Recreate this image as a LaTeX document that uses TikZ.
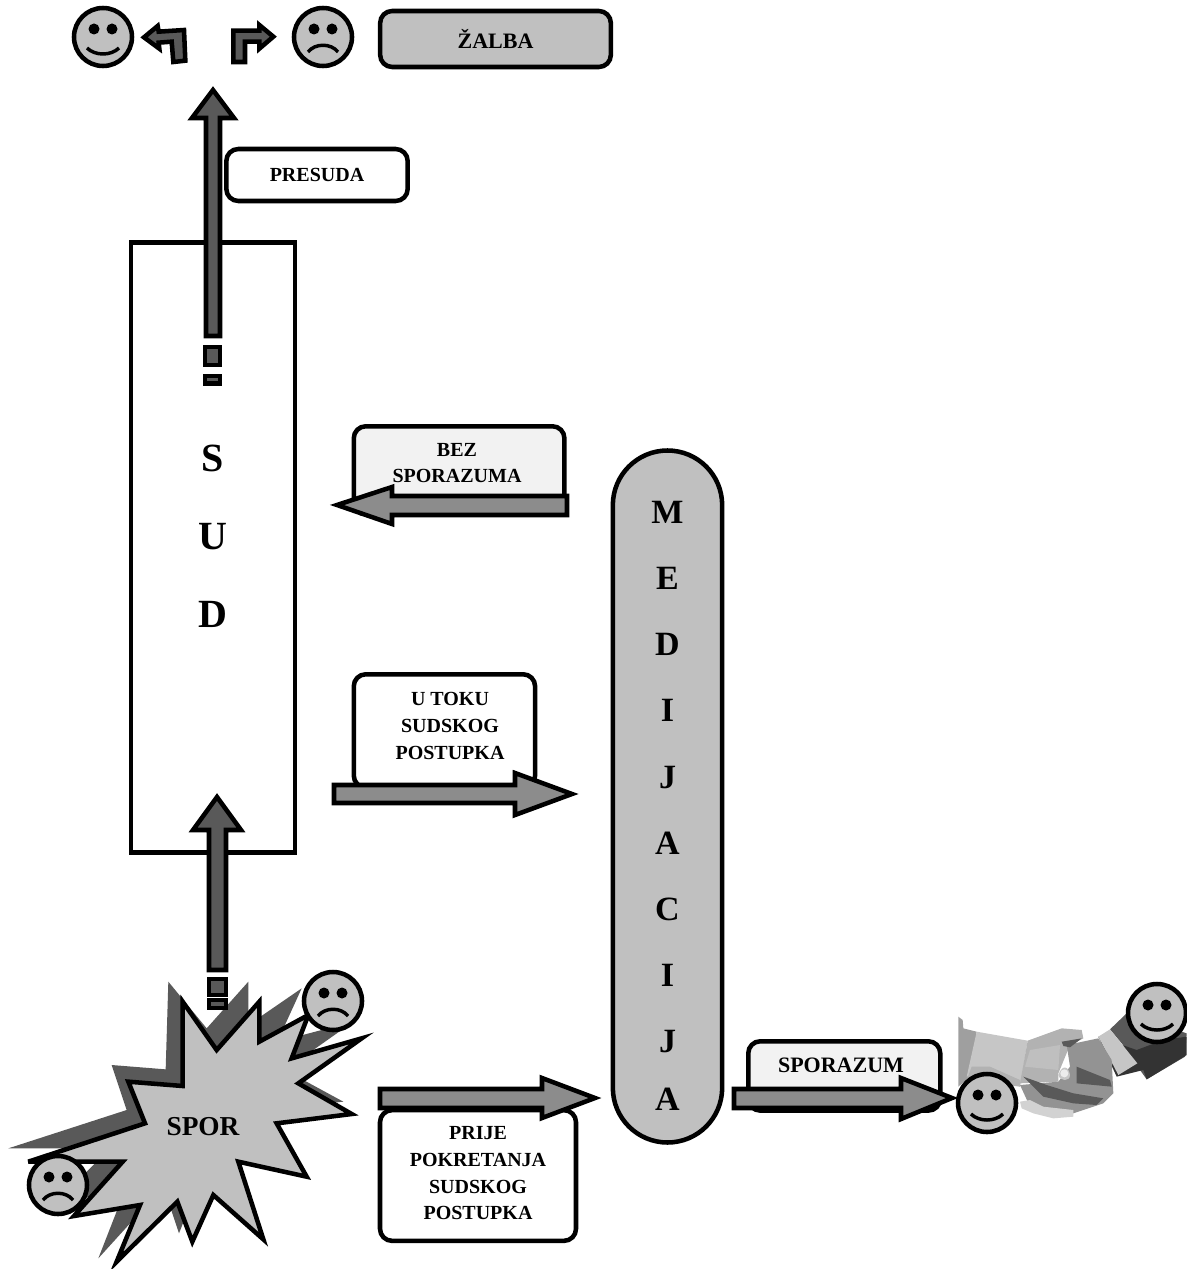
\documentclass[tikz,border=0pt]{standalone}
\usepackage{fontspec}
\setmainfont{Liberation Serif}
\definecolor{lg}{HTML}{C0C0C0}
\definecolor{mg}{HTML}{8C8C8C}
\definecolor{dg}{HTML}{595959}
\definecolor{pale}{HTML}{F2F2F2}
\tikzset{
  x=0.75pt,y=-0.75pt,
  ln/.style={line width=3.4pt,draw=black,line join=miter,miter limit=6},
  tbox/.style={ln,rounded corners=9pt,inner sep=0pt,font=\fontsize{15}{20}\selectfont\bfseries,align=center},
  lab/.style={inner sep=0pt,font=\fontsize{15}{20}\selectfont\bfseries,align=center},
  midarrow/.style={ln,fill=mg},
  darkarrow/.style={ln,fill=dg},
  face/.style={circle,line width=3.4pt,draw=black,fill=lg,minimum size=43.5pt,inner sep=0pt},
  z1/.style={shift={(0,960)},x=0.25pt,y=-0.25pt},
  z2/.style={shift={(60,0)},x=0.25pt,y=-0.25pt},
  z3/.style={shift={(930,970)},x=0.25pt,y=-0.25pt},
  pics/eyes/.style={code={
    \fill (-9,-8) circle[radius=5.5];
    \fill (9,-8) circle[radius=5.5];}},
  pics/happy/.style={code={
    \pic{eyes};
    \draw[line width=2.6pt] (-16,11) .. controls (-8,19) and (8,19) .. (16,11);}},
  pics/sad/.style={code={
    \pic{eyes};
    \draw[line width=2.6pt] (-15,15) .. controls (-8,6) and (8,6) .. (15,15);}},
}
\begin{document}
\begin{tikzpicture}
\useasboundingbox (0,0) rectangle (1187,1269);

% court
\node[ln,fill=white,minimum width=123pt,minimum height=457.5pt,inner sep=0pt] (sud) at (213,547.5) {};
\node[lab,font=\fontsize{30}{58.5}\selectfont\bfseries] (sudtext) at (213,536) {S\\U\\D};

% verdict arrow
\draw[darkarrow] (213,90) -- (234,118) -- (220,118) -- (220,336) -- (206,336) -- (206,118) -- (192,118) -- cycle;
\draw[darkarrow] (205,347) rectangle (220,365);
\draw[darkarrow] (205,376) rectangle (220,383.5);

% top row
\draw[darkarrow,z2] (252,112) -- (293,78) -- (296,95) -- (372,90) -- (376,182) -- (340,186) -- (335,125) -- (296,128) -- (298,146) -- cycle;
\draw[darkarrow,z2] (640,110) -- (598,75) -- (598,92) -- (520,92) -- (520,186) -- (555,186) -- (555,125) -- (598,125) -- (598,146) -- cycle;
\node[face] (win) at (103,37) {};
\pic at (win) {happy};
\node[face] (lose) at (323,37) {};
\pic at (lose) {sad};
\node[tbox,fill=lg,minimum width=173pt,minimum height=42pt,font=\fontsize{16.5}{20}\selectfont\bfseries] (zalba) at (495.5,39) {ŽALBA};
\node[tbox,fill=white,minimum width=136pt,minimum height=39pt] (presuda) at (317,175) {PRESUDA};

% no settlement
\node[tbox,fill=pale,minimum width=158pt,minimum height=66pt,anchor=north west,align=center,text depth=0pt] (bez) at (351.5,424) {};
\node[lab] (beztext) at (457,463) {BEZ\\SPORAZUMA};
\draw[midarrow] (337,505) -- (392,487) -- (392,496) -- (567,496) -- (567,515) -- (392,515) -- (392,524) -- cycle;

% during proceedings
\node[tbox,fill=white,minimum width=136pt,minimum height=85pt,anchor=north west] (tok) at (351.5,672) {};
\node[lab] (toktext) at (450,726) {U TOKU\\SUDSKOG\\POSTUPKA};
\draw[midarrow] (334,785) -- (515,785) -- (515,773) -- (572,794) -- (515,815) -- (515,803) -- (334,803) -- cycle;

% mediation
\node[ln,fill=lg,rounded corners=41pt,minimum width=82pt,minimum height=519pt,inner sep=0pt] (med) at (667.5,796.5) {};
\node[lab,font=\fontsize{25.5}{49.6}\selectfont\bfseries] (medtext) at (667.5,806) {M\\E\\D\\I\\J\\A\\C\\I\\J\\[-6pt]A};

% dispute
\begin{scope}[z1]
\fill[dg] (505,65) -- (620,205) -- (745,65) -- (745,195) -- (905,85) -- (832,245) -- (1060,185) -- (855,330) -- (1030,425) -- (790,450) -- (880,600) -- (680,560) -- (755,800) -- (600,660) -- (537,820) -- (490,680) -- (295,895) -- (375,690) -- (165,730) -- (330,565) -- (25,565) -- (380,450) -- (335,315) -- (497,328) -- cycle;
\end{scope}
\draw[darkarrow] (209.5,787) ++(7.5,10) -- (241,830) -- (226,830) -- (226,970) -- (209,970) -- (209,830) -- (193,830) -- cycle;
\draw[darkarrow] (209,979) rectangle (226,995);
\draw[darkarrow] (209,1000) rectangle (226,1008);
\begin{scope}[z1]
\draw[ln,fill=lg] (548,125) -- (650,270) -- (778,125) -- (778,245) -- (925,165) -- (875,295) -- (1085,235) -- (895,370) -- (1055,462) -- (830,490) -- (920,650) -- (715,605) -- (790,838) -- (640,705) -- (577,845) -- (532,725) -- (350,905) -- (420,735) -- (222,768) -- (368,605) -- (85,605) -- (435,490) -- (385,365) -- (548,378) -- cycle;
\end{scope}
\node[lab,font=\fontsize{20.5}{24}\selectfont\bfseries] (spor) at (203,1127) {SPOR};
\node[face] (sadA) at (333,1001) {};
\pic at (sadA) {sad};
\node[face] (sadB) at (58,1185) {};
\pic at (sadB) {sad};

% before proceedings
\node[tbox,fill=white,minimum width=147pt,minimum height=98pt] (prije) at (478,1175.5) {};
\node[lab] (prijetext) at (478,1173.5) {PRIJE\\POKRETANJA\\SUDSKOG\\POSTUPKA};
\draw[midarrow] (380,1089) -- (542,1089) -- (542,1078) -- (595,1098) -- (542,1118) -- (542,1108) -- (380,1108) -- cycle;

% handshake
\begin{scope}[z3]
\fill[gray!75] (85,140) -- (98,150) -- (100,175) -- (140,185) -- (120,320) -- (85,350) -- cycle;
\fill[gray!45] (140,185) -- (293,212) -- (270,350) -- (180,300) -- (110,320) -- cycle;
\fill[gray!60] (125,290) -- (180,290) -- (270,330) -- (270,350) -- (110,330) -- cycle;
\fill[dg] (540,178) -- (590,130) -- (770,190) -- (765,260) -- (650,328) -- (630,300) -- (600,250) -- cycle;
\fill[gray!40!black] (505,200) -- (560,320) -- (640,300) -- (650,328) -- (770,255) -- (770,200) -- (700,210) -- (620,240) -- cycle;
\fill[gray!45] (505,200) -- (540,178) -- (622,280) -- (565,315) -- cycle;
\fill[gray!60] (293,212) -- (395,175) -- (455,180) -- (460,205) -- (420,225) -- (385,310) -- (385,335) -- (270,340) -- cycle;
\fill[gray!85] (410,225) -- (505,205) -- (545,270) -- (550,370) -- (520,400) -- (430,430) -- (300,410) -- (270,345) -- (385,335) -- (420,290) -- cycle;
\fill[gray!35] (270,395) -- (300,390) -- (340,410) -- (430,420) -- (430,440) -- (370,445) -- (310,430) -- (275,415) -- cycle;
\fill[gray!120!black,fill=dg] (280,320) -- (350,345) -- (430,370) -- (520,385) -- (500,405) -- (430,400) -- (340,380) -- cycle;
\fill[dg] (440,290) -- (540,330) -- (545,350) -- (440,340) -- cycle;
\fill[gray!50] (300,240) -- (390,225) -- (385,300) -- (285,290) -- cycle;
\fill[gray!45] (385,315) .. controls (395,285) and (415,285) .. (420,315) .. controls (420,335) and (390,335) .. (385,315) -- cycle;
\fill[dg] (395,215) -- (455,205) -- (420,232) -- (400,228) -- cycle;
\fill[gray!15] (403,310) circle[radius=12];
\end{scope}

% settlement
\node[tbox,fill=pale,minimum width=144pt,minimum height=52pt,anchor=north west] (sporazum) at (746,1039) {};
\node[lab,font=\fontsize{16.5}{20}\selectfont\bfseries] (sporazumtext) at (841,1065) {SPORAZUM};
\draw[midarrow] (734,1089) -- (901,1089) -- (901,1078) -- (952,1098) -- (901,1119) -- (901,1108) -- (734,1108) -- cycle;
\node[face] (okA) at (987,1103) {};
\pic at (okA) {happy};
\node[face] (okB) at (1157,1013) {};
\pic at (okB) {happy};
\end{tikzpicture}
\end{document}
